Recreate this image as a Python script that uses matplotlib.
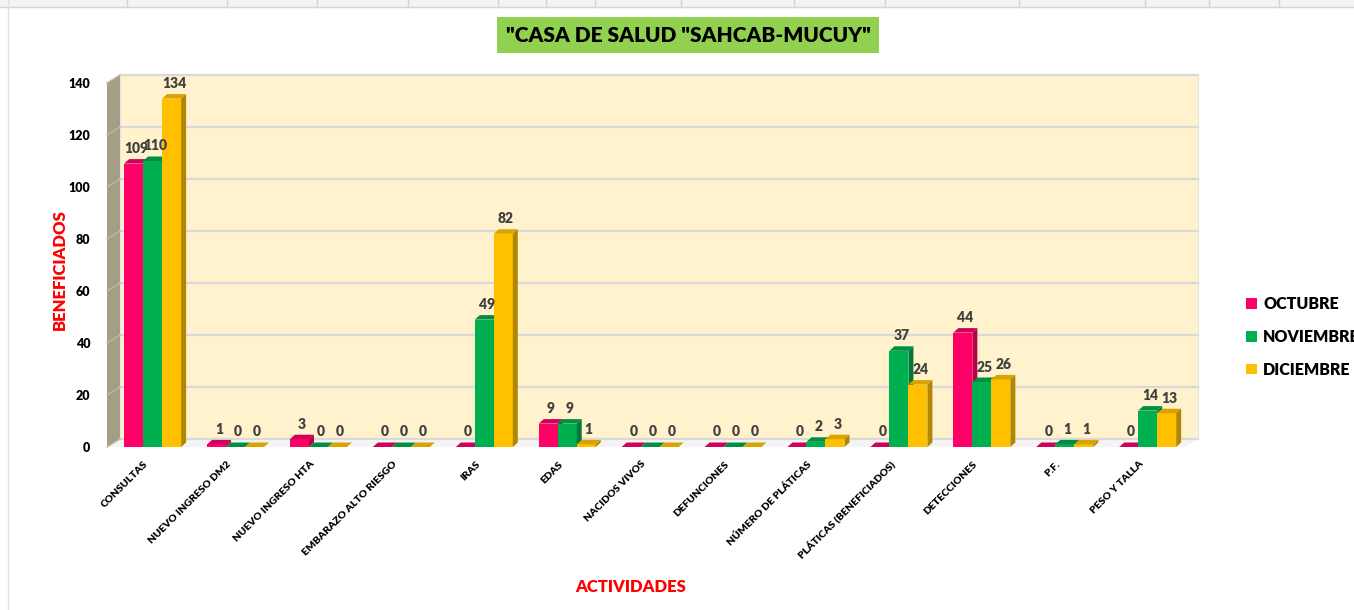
import numpy as np
import matplotlib.pyplot as plt
import matplotlib.transforms as mtransforms
from matplotlib.patches import Polygon, Rectangle, Patch
from matplotlib.lines import Line2D

plt.rcParams['font.family'] = ['Lato', 'DejaVu Sans']

actividades = ['CONSULTAS', 'NUEVO INGRESO DM2', 'NUEVO INGRESO HTA', 'EMBARAZO ALTO RIESGO',
               'IRAS', 'EDAS', 'NACIDOS VIVOS', 'DEFUNCIONES', 'NÚMERO DE PLÁTICAS',
               'PLÁTICAS (BENEFICIADOS)', 'DETECCIONES', 'P.F.', 'PESO Y TALLA']
octubre = [109, 1, 3, 0, 0, 9, 0, 0, 0, 0, 44, 0, 0]
noviembre = [110, 0, 0, 0, 49, 9, 0, 0, 2, 37, 25, 1, 14]
diciembre = [134, 0, 0, 0, 82, 1, 0, 0, 3, 24, 26, 1, 13]
meses = ['OCTUBRE', 'NOVIEMBRE', 'DICIEMBRE']
yticks = [0, 20, 40, 60, 80, 100, 120, 140]

front = ['#FF0066', '#00B050', '#FFC000']
side = ['#B8004A', '#007A38', '#B38600']
top = ['#D1005A', '#008F42', '#D9A300']

W, H = 1354, 610
fig = plt.figure(figsize=(W / 100, H / 100), dpi=100)

# spreadsheet header strip
fig.patches.append(Rectangle((0, 1 - 7 / H), 1, 7 / H, transform=fig.transFigure,
                             facecolor='#F3F3F3', edgecolor='none'))
fig.add_artist(Line2D([0, 1], [1 - 7 / H] * 2, color='#D4D4D4', lw=1))
fig.add_artist(Line2D([8 / W] * 2, [0, 1], color='#E0E0E0', lw=1))
for cx in [127, 227, 317, 408, 498, 546, 595, 681, 794, 885, 1019, 1145, 1209, 1279]:
    fig.add_artist(Line2D([cx / W] * 2, [1 - 7 / H, 1], color='#D4D4D4', lw=1))

L, R, B, T = 107, 1185, 447, 83
ax = fig.add_axes([L / W, 1 - B / H, (R - L) / W, (B - T) / H])
x0, x1 = -0.55, 12.45
ax.set_xlim(x0, x1)
ax.set_ylim(0, 140)
ax.patch.set_alpha(0)
for s in ax.spines.values():
    s.set_visible(False)

pxx = (R - L) / (x1 - x0)
pxy = (B - T) / 140.0
wdx, wdy = 13 / pxx, 8 / pxy      # wall depth
bdx, bdy = 5 / pxx, 4.5 / pxy     # bar depth

# back wall, side wall, floor
ax.add_patch(Rectangle((x0 + wdx, wdy), x1 - x0, 140, facecolor='#FFF2CC',
                       edgecolor='#E6E6E6', lw=1, zorder=0, clip_on=False))
ax.add_patch(Polygon([(x0, 0), (x0, 140), (x0 + wdx, 140 + wdy), (x0 + wdx, wdy)],
                     facecolor='#A59E86', edgecolor='none', zorder=0.5, clip_on=False))
ax.add_patch(Polygon([(x0, 0), (x1, 0), (x1 + wdx, wdy), (x0 + wdx, wdy)],
                     facecolor='#F4F4F4', edgecolor='none', zorder=0.5, clip_on=False))
for v in yticks:
    ax.plot([x0 + wdx, x1 + wdx], [v + wdy, v + wdy], color='#D9D9D9', lw=1.6,
            zorder=1, clip_on=False)
    ax.plot([x0, x0 + wdx], [v, v + wdy], color='#BDB7A3', lw=1, zorder=1, clip_on=False)

x = np.arange(len(actividades))
bw = 19 / pxx
series = [octubre, noviembre, diciembre]
for i in range(len(actividades)):
    for k, vals in enumerate(series):
        h = vals[i]
        xl = x[i] - 1.5 * bw + k * bw
        z = 2 + i * 0.1 + k * 0.01
        ax.bar(xl, h, width=bw, align='edge', color=front[k], zorder=z)
        ax.add_patch(Polygon([(xl, h), (xl + bw, h), (xl + bw + bdx, h + bdy), (xl + bdx, h + bdy)],
                             facecolor=top[k], edgecolor='none', zorder=z))
        ax.add_patch(Polygon([(xl + bw, 0), (xl + bw, h), (xl + bw + bdx, h + bdy), (xl + bw + bdx, bdy)],
                             facecolor=side[k], edgecolor='none', zorder=z))
        ax.text(xl + bw / 2 + bdx / 2, h + bdy + 4 / pxy, str(h), ha='center', va='bottom',
                fontsize=10, fontweight='heavy', color='#404040', zorder=5)

ax.set_yticks(yticks)
ax.set_yticklabels([str(v) for v in yticks], fontsize=9, fontweight='heavy')
ax.tick_params(axis='y', length=0, pad=12)
ax.set_xticks(x)
ax.set_xticklabels(actividades, rotation=45, ha='right', rotation_mode='anchor',
                   fontsize=7.5, fontweight='heavy')
ax.tick_params(axis='x', length=0, pad=9)
shift = mtransforms.ScaledTranslation(-9 / 100, 0, fig.dpi_scale_trans)
for lab in ax.get_xticklabels():
    lab.set_transform(lab.get_transform() + shift)

fig.text(60 / W, 1 - 270 / H, 'BENEFICIADOS', rotation=90, ha='center', va='center',
         color='#FF0000', fontsize=12, fontweight='heavy')
fig.text(631 / W, 1 - 587 / H, 'ACTIVIDADES', ha='center', va='center',
         color='#FF0000', fontsize=12, fontweight='heavy')

fig.text(688 / W, 1 - 35 / H, '"CASA DE SALUD "SAHCAB-MUCUY"', ha='center', va='center',
         fontsize=15, fontweight='heavy', color='black',
         bbox=dict(boxstyle='square,pad=0.42', facecolor='#92D050', edgecolor='none'))

handles = [Patch(facecolor=c, edgecolor='none') for c in front]
fig.legend(handles, meses, loc='center left', bbox_to_anchor=(1232 / W, 1 - 337 / H),
           frameon=False, handlelength=0.65, handleheight=0.65, handletextpad=0.4,
           labelspacing=1.05, prop={'size': 11.5, 'weight': 'heavy'})

fig.savefig('out.png', dpi=100)
